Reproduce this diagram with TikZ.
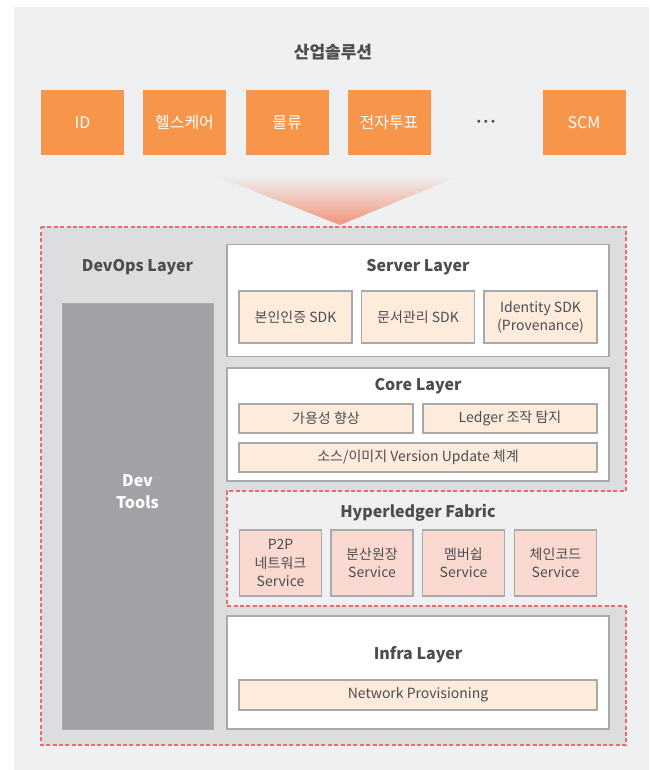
\documentclass[tikz,border=0pt]{standalone}
\usepackage{fontspec}
\setmainfont{Noto Sans CJK KR}
\usetikzlibrary{positioning}
\definecolor{bgc}{HTML}{EFF0F2}
\definecolor{layerc}{HTML}{DCDDDF}
\definecolor{toolc}{HTML}{A1A2A6}
\definecolor{solc}{HTML}{F7954A}
\definecolor{subc}{HTML}{FDEBDC}
\definecolor{svcc}{HTML}{FADAD0}
\definecolor{edgec}{HTML}{A8A9AB}
\definecolor{dashc}{HTML}{EE6A6A}
\definecolor{txtc}{HTML}{4D4D4F}
\definecolor{funnelc}{HTML}{F0967A}

\begin{document}
\begin{tikzpicture}[x=1pt, y=-1pt,
  solbox/.style={fill=solc, text=white, minimum width=83, minimum height=65, inner sep=0,
    font=\fontsize{16}{19}\selectfont},
  layerbox/.style={draw=edgec, line width=1.2pt, fill=white, inner sep=0, minimum width=382},
  subbox/.style={draw=edgec, line width=1.2pt, fill=subc, text=txtc, inner sep=0, align=center,
    font=\fontsize{14}{17}\selectfont},
  svcbox/.style={subbox, fill=svcc, minimum width=82, minimum height=66,
    font=\fontsize{14}{18.5}\selectfont},
  layertitle/.style={text=txtc, font=\bfseries\fontsize{16}{19}\selectfont},
  reddash/.style={draw=dashc, line width=1.2pt, dash pattern=on 4pt off 2.4pt}]
  \useasboundingbox (0,0) rectangle (649,770);
  \fill[bgc] (14,7) rectangle (649,770);

  % industry solutions
  \node[text=txtc, font=\bfseries\fontsize{17}{20}\selectfont] (title) at (333,52) {산업솔루션};
  \node[solbox] (id) at (82.5,122.5) {ID};
  \node[solbox] (health) at (184.5,122.5) {헬스케어};
  \node[solbox] (logis) at (287,122.5) {물류};
  \node[solbox] (vote) at (389,122.5) {전자투표};
  \node[text=txtc, inner sep=0, font=\fontsize{7}{8}\selectfont] (dots) at (486,121.5)
    {$\bullet$\hspace{3pt}$\bullet$\hspace{3pt}$\bullet$};
  \node[solbox] (scm) at (584,122.5) {SCM};

  % funnel
  \shade[top color=bgc, bottom color=funnelc] (213,175) -- (462,175) -- (340,225) -- cycle;

  % platform area with notch for fabric
  \draw[reddash, fill=layerc] (41,227) -- (626,227) -- (626,491) -- (227,491) -- (227,606)
    -- (626,606) -- (626,745) -- (41,745) -- cycle;

  % devops
  \node[layertitle] (devops) at (137.5,267) {DevOps Layer};
  \node[fill=toolc, draw=edgec, line width=0.8pt, minimum width=151, minimum height=426, inner sep=0]
    (tools) at (137.5,516) {};
  \node[text=white, align=center, font=\bfseries\fontsize{16}{22}\selectfont] (toolstxt) at (137.5,492)
    {Dev\\Tools};

  % server layer
  \node[layerbox, minimum height=112] (server) at (418,300.5) {};
  \node[layertitle] (servertitle) at (418,267) {Server Layer};
  \node[subbox, minimum width=113, minimum height=52] (auth) at (295.5,317) {본인인증 SDK};
  \node[subbox, minimum width=113, minimum height=52] (docs) at (418,317) {문서관리 SDK};
  \node[subbox, minimum width=113, minimum height=52, font=\fontsize{14}{18}\selectfont] (ident) at (540.5,317)
    {Identity SDK\\(Provenance)};

  % core layer
  \node[layerbox, minimum height=113] (core) at (418,424.5) {};
  \node[layertitle] (coretitle) at (418,386) {Core Layer};
  \node[subbox, minimum width=174, minimum height=29] (avail) at (326,418.5) {가용성 향상};
  \node[subbox, minimum width=174, minimum height=29] (ledger) at (510,418.5) {Ledger 조작 탐지};
  \node[subbox, minimum width=358, minimum height=29] (version) at (418,457.5)
    {소스/이미지 Version Update 체계};

  % hyperledger fabric
  \node[layertitle] (fabric) at (418,513) {Hyperledger Fabric};
  \node[svcbox] (p2p) at (280.5,563) {P2P\\네트워크\\Service};
  \node[svcbox] (dist) at (372,563) {분산원장\\Service};
  \node[svcbox] (member) at (463.5,563) {멤버쉽\\Service};
  \node[svcbox] (chain) at (555.5,563) {체인코드\\Service};

  % infra layer
  \node[layerbox, minimum height=113] (infra) at (418,672.5) {};
  \node[layertitle] (infratitle) at (418,655) {Infra Layer};
  \node[subbox, minimum width=358, minimum height=30] (netprov) at (418,695) {Network Provisioning};
\end{tikzpicture}
\end{document}
